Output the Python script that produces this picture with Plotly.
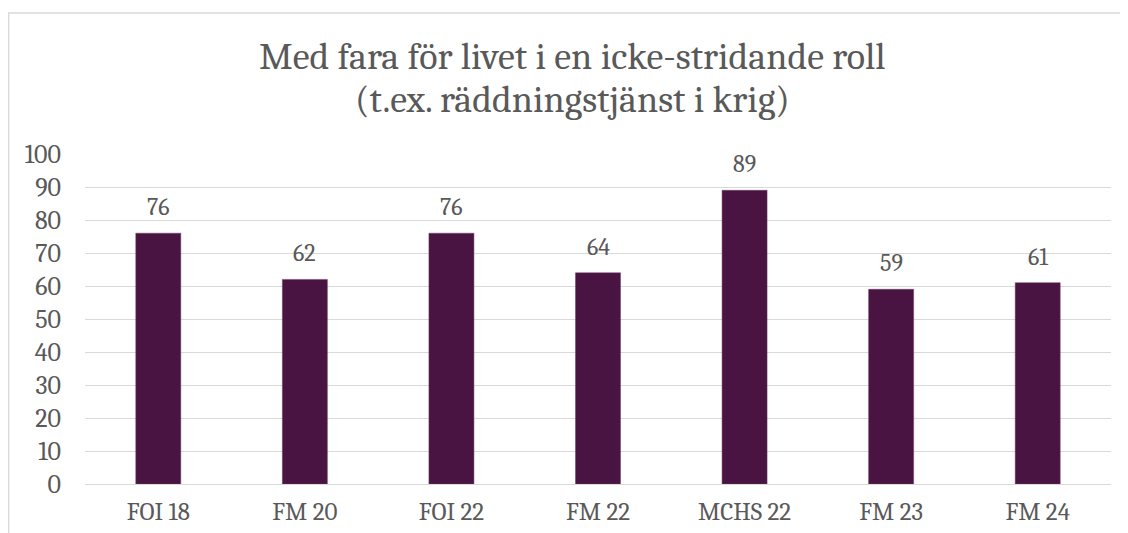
import plotly.graph_objects as go

categories = ["FOI 18", "FM 20", "FOI 22", "FM 22", "MCHS 22", "FM 23", "FM 24"]
values = [76, 62, 76, 64, 89, 59, 61]
y_ticks = [0, 10, 20, 30, 40, 50, 60, 70, 80, 90, 100]
title_lines = ["Med fara för livet i en icke-stridande roll", "(t.ex. räddningstjänst i krig)"]

FONT = "Cambria, Caladea, 'Liberation Serif', 'DejaVu Serif', serif"
TEXT_COLOR = "#595959"
BAR_COLOR = "#4A1442"
GRID_COLOR = "#D9D9D9"

# page body has an 8px margin; the figure is sized to fill the rest
W, H = 1120, 525
ML, MR, MT, MB = 77, 17, 146, 49
PW = W - ML - MR  # plot width in px
PH = H - MT - MB  # plot height in px

fig = go.Figure()
fig.add_trace(go.Bar(
    x=categories, y=values,
    marker=dict(color=BAR_COLOR, line=dict(color="#6B3A64", width=0.5)),
    hoverinfo="x+y",
))

for c, v in zip(categories, values):
    fig.add_annotation(
        x=c, y=v, text=str(v), showarrow=False,
        yanchor="bottom", yshift=10,
        font=dict(family=FONT, size=24, color=TEXT_COLOR),
    )

# title as two lines; centred on the (wider) chart container
title_cx = 564
for line, ypx in zip(title_lines, [48.5, 91.5]):
    fig.add_annotation(
        text=line, showarrow=False,
        xref="paper", yref="paper", x=(title_cx - ML) / PW, xanchor="center",
        y=(H - MB - ypx) / PH, yanchor="middle", borderpad=0,
        font=dict(family=FONT, size=38, color=TEXT_COLOR),
    )

fig.update_layout(
    width=W, height=H,
    margin=dict(l=ML, r=MR, t=MT, b=MB, autoexpand=False),
    paper_bgcolor="white", plot_bgcolor="white",
    bargap=0.693,
    showlegend=False,
    xaxis=dict(
        showgrid=False, showline=False, zeroline=False, automargin=False,
        tickfont=dict(family=FONT, size=25, color=TEXT_COLOR),
        ticks="", ticklabelstandoff=10,
    ),
    yaxis=dict(
        range=[0, 100], tickvals=y_ticks, automargin=False,
        showgrid=True, gridcolor=GRID_COLOR, gridwidth=1.3,
        zeroline=True, zerolinecolor=GRID_COLOR, zerolinewidth=1.3,
        showline=False, ticks="",
        tickfont=dict(family=FONT, size=26, color=TEXT_COLOR),
        ticklabelstandoff=23,
    ),
    shapes=[dict(
        type="rect", xref="paper", yref="paper",
        x0=(0.7 - ML) / PW, x1=1.2,
        y0=-0.5, y1=(H - MB - 5) / PH,
        line=dict(color="#D9D9D9", width=1.3),
        fillcolor="rgba(0,0,0,0)", layer="below",
    )],
)

fig.write_html("out.html")
